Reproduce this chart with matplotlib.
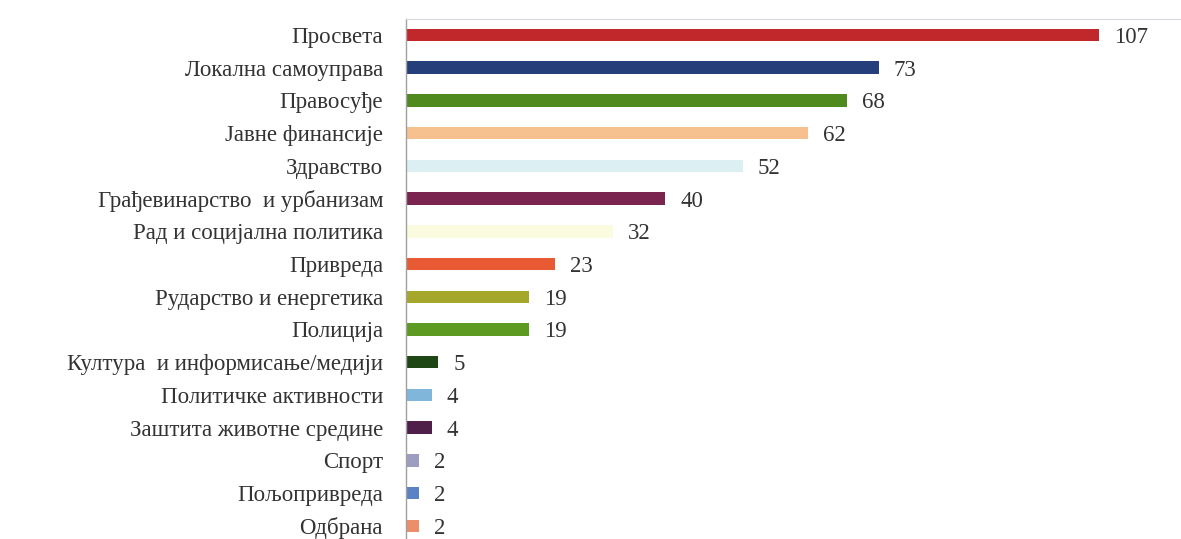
import matplotlib
matplotlib.use("Agg")
import matplotlib.pyplot as plt

categories = ["Просвета", "Локална самоуправа", "Правосуђе", "Јавне финансије", "Здравство",
              "Грађевинарство  и урбанизам", "Рад и социјална политика", "Привреда",
              "Рударство и енергетика", "Полиција", "Култура  и информисање/медији",
              "Политичке активности", "Заштита животне средине", "Спорт", "Пољопривреда", "Одбрана"]
values = [107, 73, 68, 62, 52, 40, 32, 23, 19, 19, 5, 4, 4, 2, 2, 2]
colors = ["#c0282b", "#253f7a", "#4f8a1e", "#f7c08f", "#dceff2", "#7a2550", "#fbfbe0", "#e85a33",
          "#a5a72a", "#5d9a22", "#1f4716", "#7fb6d9", "#4f1f4a", "#9d9dc2", "#5b82c4", "#ec8e6a"]

plt.rcParams['font.family'] = ['Liberation Serif', 'DejaVu Serif']

fig = plt.figure(figsize=(11.81, 5.39), dpi=100)
ax = fig.add_axes([406/1181, -0.006, 1 - 406/1181, 0.9716])

y = list(range(len(categories)))
ax.barh(y, values, height=0.38, color=colors)
for yi, v in zip(y, values):
    ax.text(v + 2.3, yi, str(v), va='center_baseline', ha='left', fontsize=16.5, color='#333333')

ax.set_yticks(y)
ax.set_yticklabels(categories, fontsize=16.5, color='#333333', va='center_baseline')
ax.tick_params(axis='y', length=0, pad=16.5)
ax.set_ylim(15.5, -0.5)
ax.set_xlim(0, 775/6.48)
ax.set_xticks([])
for s in ['right', 'bottom']:
    ax.spines[s].set_visible(False)
ax.spines['top'].set_color('#d8d8e0')
ax.spines['top'].set_linewidth(0.8)
ax.spines['left'].set_color('#a0a0a0')
ax.spines['left'].set_linewidth(1.0)

fig.savefig("out.png", dpi=100)
